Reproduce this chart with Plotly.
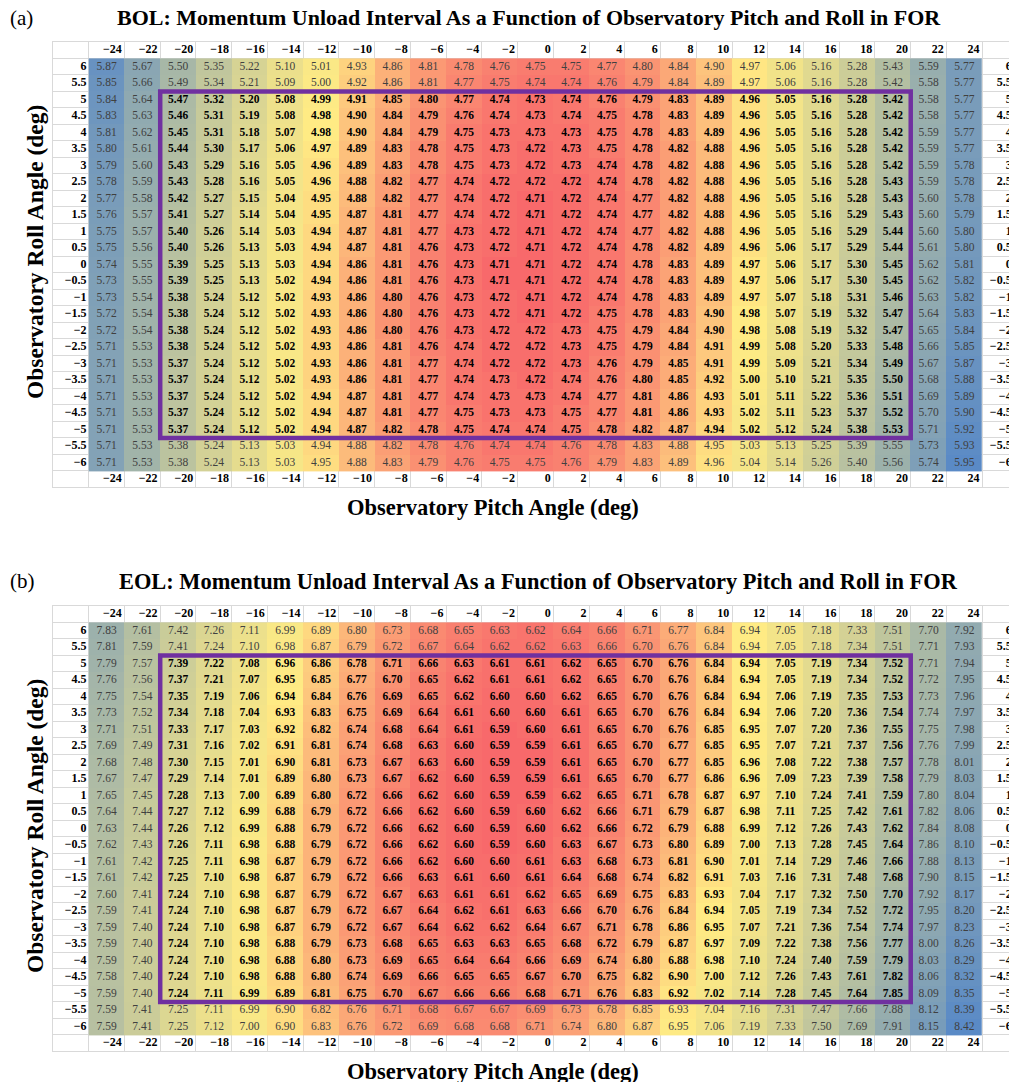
import numpy as np
import plotly.graph_objects as go

# ---------------- data ----------------
pitch_deg = [-24, -22, -20, -18, -16, -14, -12, -10, -8, -6, -4, -2, 0,
             2, 4, 6, 8, 10, 12, 14, 16, 18, 20, 22, 24]
roll_deg = [6, 5.5, 5, 4.5, 4, 3.5, 3, 2.5, 2, 1.5, 1, 0.5, 0,
            -0.5, -1, -1.5, -2, -2.5, -3, -3.5, -4, -4.5, -5, -5.5, -6]

pitch_labels = ["−24", "−22", "−20", "−18", "−16", "−14", "−12", "−10", "−8", "−6", "−4", "−2", "0",
                "2", "4", "6", "8", "10", "12", "14", "16", "18", "20", "22", "24"]
roll_labels = ["6", "5.5", "5", "4.5", "4", "3.5", "3", "2.5", "2", "1.5", "1", "0.5", "0",
               "−0.5", "−1", "−1.5", "−2", "−2.5", "−3", "−3.5", "−4", "−4.5", "−5", "−5.5", "−6"]

# BOL momentum unload interval (rows = roll 6 .. -6, cols = pitch -24 .. 24)
bol_interval = [
    [5.87, 5.67, 5.50, 5.35, 5.22, 5.10, 5.01, 4.93, 4.86, 4.81, 4.78, 4.76, 4.75, 4.75, 4.77, 4.80, 4.84, 4.90, 4.97, 5.06, 5.16, 5.28, 5.43, 5.59, 5.77],
    [5.85, 5.66, 5.49, 5.34, 5.21, 5.09, 5.00, 4.92, 4.86, 4.81, 4.77, 4.75, 4.74, 4.74, 4.76, 4.79, 4.84, 4.89, 4.97, 5.06, 5.16, 5.28, 5.42, 5.58, 5.77],
    [5.84, 5.64, 5.47, 5.32, 5.20, 5.08, 4.99, 4.91, 4.85, 4.80, 4.77, 4.74, 4.73, 4.74, 4.76, 4.79, 4.83, 4.89, 4.96, 5.05, 5.16, 5.28, 5.42, 5.58, 5.77],
    [5.83, 5.63, 5.46, 5.31, 5.19, 5.08, 4.98, 4.90, 4.84, 4.79, 4.76, 4.74, 4.73, 4.74, 4.75, 4.78, 4.83, 4.89, 4.96, 5.05, 5.16, 5.28, 5.42, 5.58, 5.77],
    [5.81, 5.62, 5.45, 5.31, 5.18, 5.07, 4.98, 4.90, 4.84, 4.79, 4.75, 4.73, 4.73, 4.73, 4.75, 4.78, 4.83, 4.89, 4.96, 5.05, 5.16, 5.28, 5.42, 5.59, 5.77],
    [5.80, 5.61, 5.44, 5.30, 5.17, 5.06, 4.97, 4.89, 4.83, 4.78, 4.75, 4.73, 4.72, 4.73, 4.75, 4.78, 4.82, 4.88, 4.96, 5.05, 5.16, 5.28, 5.42, 5.59, 5.77],
    [5.79, 5.60, 5.43, 5.29, 5.16, 5.05, 4.96, 4.89, 4.83, 4.78, 4.75, 4.73, 4.72, 4.73, 4.74, 4.78, 4.82, 4.88, 4.96, 5.05, 5.16, 5.28, 5.42, 5.59, 5.78],
    [5.78, 5.59, 5.43, 5.28, 5.16, 5.05, 4.96, 4.88, 4.82, 4.77, 4.74, 4.72, 4.72, 4.72, 4.74, 4.78, 4.82, 4.88, 4.96, 5.05, 5.16, 5.28, 5.43, 5.59, 5.78],
    [5.77, 5.58, 5.42, 5.27, 5.15, 5.04, 4.95, 4.88, 4.82, 4.77, 4.74, 4.72, 4.71, 4.72, 4.74, 4.77, 4.82, 4.88, 4.96, 5.05, 5.16, 5.28, 5.43, 5.60, 5.78],
    [5.76, 5.57, 5.41, 5.27, 5.14, 5.04, 4.95, 4.87, 4.81, 4.77, 4.74, 4.72, 4.71, 4.72, 4.74, 4.77, 4.82, 4.88, 4.96, 5.05, 5.16, 5.29, 5.43, 5.60, 5.79],
    [5.75, 5.57, 5.40, 5.26, 5.14, 5.03, 4.94, 4.87, 4.81, 4.77, 4.73, 4.72, 4.71, 4.72, 4.74, 4.77, 4.82, 4.88, 4.96, 5.05, 5.16, 5.29, 5.44, 5.60, 5.80],
    [5.75, 5.56, 5.40, 5.26, 5.13, 5.03, 4.94, 4.87, 4.81, 4.76, 4.73, 4.72, 4.71, 4.72, 4.74, 4.78, 4.82, 4.89, 4.96, 5.06, 5.17, 5.29, 5.44, 5.61, 5.80],
    [5.74, 5.55, 5.39, 5.25, 5.13, 5.03, 4.94, 4.86, 4.81, 4.76, 4.73, 4.71, 4.71, 4.72, 4.74, 4.78, 4.83, 4.89, 4.97, 5.06, 5.17, 5.30, 5.45, 5.62, 5.81],
    [5.73, 5.55, 5.39, 5.25, 5.13, 5.02, 4.94, 4.86, 4.81, 4.76, 4.73, 4.71, 4.71, 4.72, 4.74, 4.78, 4.83, 4.89, 4.97, 5.06, 5.17, 5.30, 5.45, 5.62, 5.82],
    [5.73, 5.54, 5.38, 5.24, 5.12, 5.02, 4.93, 4.86, 4.80, 4.76, 4.73, 4.72, 4.71, 4.72, 4.74, 4.78, 4.83, 4.89, 4.97, 5.07, 5.18, 5.31, 5.46, 5.63, 5.82],
    [5.72, 5.54, 5.38, 5.24, 5.12, 5.02, 4.93, 4.86, 4.80, 4.76, 4.73, 4.72, 4.71, 4.72, 4.75, 4.78, 4.83, 4.90, 4.98, 5.07, 5.19, 5.32, 5.47, 5.64, 5.83],
    [5.72, 5.54, 5.38, 5.24, 5.12, 5.02, 4.93, 4.86, 4.80, 4.76, 4.73, 4.72, 4.72, 4.73, 4.75, 4.79, 4.84, 4.90, 4.98, 5.08, 5.19, 5.32, 5.47, 5.65, 5.84],
    [5.71, 5.53, 5.38, 5.24, 5.12, 5.02, 4.93, 4.86, 4.81, 4.76, 4.74, 4.72, 4.72, 4.73, 4.75, 4.79, 4.84, 4.91, 4.99, 5.08, 5.20, 5.33, 5.48, 5.66, 5.85],
    [5.71, 5.53, 5.37, 5.24, 5.12, 5.02, 4.93, 4.86, 4.81, 4.77, 4.74, 4.72, 4.72, 4.73, 4.76, 4.79, 4.85, 4.91, 4.99, 5.09, 5.21, 5.34, 5.49, 5.67, 5.87],
    [5.71, 5.53, 5.37, 5.24, 5.12, 5.02, 4.93, 4.86, 4.81, 4.77, 4.74, 4.73, 4.72, 4.74, 4.76, 4.80, 4.85, 4.92, 5.00, 5.10, 5.21, 5.35, 5.50, 5.68, 5.88],
    [5.71, 5.53, 5.37, 5.24, 5.12, 5.02, 4.94, 4.87, 4.81, 4.77, 4.74, 4.73, 4.73, 4.74, 4.77, 4.81, 4.86, 4.93, 5.01, 5.11, 5.22, 5.36, 5.51, 5.69, 5.89],
    [5.71, 5.53, 5.37, 5.24, 5.12, 5.02, 4.94, 4.87, 4.81, 4.77, 4.75, 4.73, 4.73, 4.75, 4.77, 4.81, 4.86, 4.93, 5.02, 5.11, 5.23, 5.37, 5.52, 5.70, 5.90],
    [5.71, 5.53, 5.37, 5.24, 5.12, 5.02, 4.94, 4.87, 4.82, 4.78, 4.75, 4.74, 4.74, 4.75, 4.78, 4.82, 4.87, 4.94, 5.02, 5.12, 5.24, 5.38, 5.53, 5.71, 5.92],
    [5.71, 5.53, 5.38, 5.24, 5.13, 5.03, 4.94, 4.88, 4.82, 4.78, 4.76, 4.74, 4.74, 4.76, 4.78, 4.83, 4.88, 4.95, 5.03, 5.13, 5.25, 5.39, 5.55, 5.73, 5.93],
    [5.71, 5.53, 5.38, 5.24, 5.13, 5.03, 4.95, 4.88, 4.83, 4.79, 4.76, 4.75, 4.75, 4.76, 4.79, 4.83, 4.89, 4.96, 5.04, 5.14, 5.26, 5.40, 5.56, 5.74, 5.95],
]

# EOL momentum unload interval
eol_interval = [
    [7.83, 7.61, 7.42, 7.26, 7.11, 6.99, 6.89, 6.80, 6.73, 6.68, 6.65, 6.63, 6.62, 6.64, 6.66, 6.71, 6.77, 6.84, 6.94, 7.05, 7.18, 7.33, 7.51, 7.70, 7.92],
    [7.81, 7.59, 7.41, 7.24, 7.10, 6.98, 6.87, 6.79, 6.72, 6.67, 6.64, 6.62, 6.62, 6.63, 6.66, 6.70, 6.76, 6.84, 6.94, 7.05, 7.18, 7.34, 7.51, 7.71, 7.93],
    [7.79, 7.57, 7.39, 7.22, 7.08, 6.96, 6.86, 6.78, 6.71, 6.66, 6.63, 6.61, 6.61, 6.62, 6.65, 6.70, 6.76, 6.84, 6.94, 7.05, 7.19, 7.34, 7.52, 7.71, 7.94],
    [7.76, 7.56, 7.37, 7.21, 7.07, 6.95, 6.85, 6.77, 6.70, 6.65, 6.62, 6.61, 6.61, 6.62, 6.65, 6.70, 6.76, 6.84, 6.94, 7.05, 7.19, 7.34, 7.52, 7.72, 7.95],
    [7.75, 7.54, 7.35, 7.19, 7.06, 6.94, 6.84, 6.76, 6.69, 6.65, 6.62, 6.60, 6.60, 6.62, 6.65, 6.70, 6.76, 6.84, 6.94, 7.06, 7.19, 7.35, 7.53, 7.73, 7.96],
    [7.73, 7.52, 7.34, 7.18, 7.04, 6.93, 6.83, 6.75, 6.69, 6.64, 6.61, 6.60, 6.60, 6.61, 6.65, 6.70, 6.76, 6.84, 6.94, 7.06, 7.20, 7.36, 7.54, 7.74, 7.97],
    [7.71, 7.51, 7.33, 7.17, 7.03, 6.92, 6.82, 6.74, 6.68, 6.64, 6.61, 6.59, 6.60, 6.61, 6.65, 6.70, 6.76, 6.85, 6.95, 7.07, 7.20, 7.36, 7.55, 7.75, 7.98],
    [7.69, 7.49, 7.31, 7.16, 7.02, 6.91, 6.81, 6.74, 6.68, 6.63, 6.60, 6.59, 6.59, 6.61, 6.65, 6.70, 6.77, 6.85, 6.95, 7.07, 7.21, 7.37, 7.56, 7.76, 7.99],
    [7.68, 7.48, 7.30, 7.15, 7.01, 6.90, 6.81, 6.73, 6.67, 6.63, 6.60, 6.59, 6.59, 6.61, 6.65, 6.70, 6.77, 6.85, 6.96, 7.08, 7.22, 7.38, 7.57, 7.78, 8.01],
    [7.67, 7.47, 7.29, 7.14, 7.01, 6.89, 6.80, 6.73, 6.67, 6.62, 6.60, 6.59, 6.59, 6.61, 6.65, 6.70, 6.77, 6.86, 6.96, 7.09, 7.23, 7.39, 7.58, 7.79, 8.03],
    [7.65, 7.45, 7.28, 7.13, 7.00, 6.89, 6.80, 6.72, 6.66, 6.62, 6.60, 6.59, 6.59, 6.62, 6.65, 6.71, 6.78, 6.87, 6.97, 7.10, 7.24, 7.41, 7.59, 7.80, 8.04],
    [7.64, 7.44, 7.27, 7.12, 6.99, 6.88, 6.79, 6.72, 6.66, 6.62, 6.60, 6.59, 6.60, 6.62, 6.66, 6.71, 6.79, 6.87, 6.98, 7.11, 7.25, 7.42, 7.61, 7.82, 8.06],
    [7.63, 7.44, 7.26, 7.12, 6.99, 6.88, 6.79, 6.72, 6.66, 6.62, 6.60, 6.59, 6.60, 6.62, 6.66, 6.72, 6.79, 6.88, 6.99, 7.12, 7.26, 7.43, 7.62, 7.84, 8.08],
    [7.62, 7.43, 7.26, 7.11, 6.98, 6.88, 6.79, 6.72, 6.66, 6.62, 6.60, 6.59, 6.60, 6.63, 6.67, 6.73, 6.80, 6.89, 7.00, 7.13, 7.28, 7.45, 7.64, 7.86, 8.10],
    [7.61, 7.42, 7.25, 7.11, 6.98, 6.87, 6.79, 6.72, 6.66, 6.62, 6.60, 6.60, 6.61, 6.63, 6.68, 6.73, 6.81, 6.90, 7.01, 7.14, 7.29, 7.46, 7.66, 7.88, 8.13],
    [7.61, 7.42, 7.25, 7.10, 6.98, 6.87, 6.79, 6.72, 6.66, 6.63, 6.61, 6.60, 6.61, 6.64, 6.68, 6.74, 6.82, 6.91, 7.03, 7.16, 7.31, 7.48, 7.68, 7.90, 8.15],
    [7.60, 7.41, 7.24, 7.10, 6.98, 6.87, 6.79, 6.72, 6.67, 6.63, 6.61, 6.61, 6.62, 6.65, 6.69, 6.75, 6.83, 6.93, 7.04, 7.17, 7.32, 7.50, 7.70, 7.92, 8.17],
    [7.59, 7.41, 7.24, 7.10, 6.98, 6.87, 6.79, 6.72, 6.67, 6.64, 6.62, 6.61, 6.63, 6.66, 6.70, 6.76, 6.84, 6.94, 7.05, 7.19, 7.34, 7.52, 7.72, 7.95, 8.20],
    [7.59, 7.40, 7.24, 7.10, 6.98, 6.87, 6.79, 6.72, 6.67, 6.64, 6.62, 6.62, 6.64, 6.67, 6.71, 6.78, 6.86, 6.95, 7.07, 7.21, 7.36, 7.54, 7.74, 7.97, 8.23],
    [7.59, 7.40, 7.24, 7.10, 6.98, 6.88, 6.79, 6.73, 6.68, 6.65, 6.63, 6.63, 6.65, 6.68, 6.72, 6.79, 6.87, 6.97, 7.09, 7.22, 7.38, 7.56, 7.77, 8.00, 8.26],
    [7.59, 7.40, 7.24, 7.10, 6.98, 6.88, 6.80, 6.73, 6.69, 6.65, 6.64, 6.64, 6.66, 6.69, 6.74, 6.80, 6.88, 6.98, 7.10, 7.24, 7.40, 7.59, 7.79, 8.03, 8.29],
    [7.58, 7.40, 7.24, 7.10, 6.98, 6.88, 6.80, 6.74, 6.69, 6.66, 6.65, 6.65, 6.67, 6.70, 6.75, 6.82, 6.90, 7.00, 7.12, 7.26, 7.43, 7.61, 7.82, 8.06, 8.32],
    [7.59, 7.40, 7.24, 7.11, 6.99, 6.89, 6.81, 6.75, 6.70, 6.67, 6.66, 6.66, 6.68, 6.71, 6.76, 6.83, 6.92, 7.02, 7.14, 7.28, 7.45, 7.64, 7.85, 8.09, 8.35],
    [7.59, 7.41, 7.25, 7.11, 6.99, 6.90, 6.82, 6.76, 6.71, 6.68, 6.67, 6.67, 6.69, 6.73, 6.78, 6.85, 6.93, 7.04, 7.16, 7.31, 7.47, 7.66, 7.88, 8.12, 8.39],
    [7.59, 7.41, 7.25, 7.12, 7.00, 6.90, 6.83, 6.76, 6.72, 6.69, 6.68, 6.68, 6.71, 6.74, 6.80, 6.87, 6.95, 7.06, 7.19, 7.33, 7.50, 7.69, 7.91, 8.15, 8.42],
]

panel_tags = ["(a)", "(b)"]
panel_titles = ["BOL: Momentum Unload Interval As a Function of Observatory Pitch and Roll in FOR",
                "EOL: Momentum Unload Interval As a Function of Observatory Pitch and Roll in FOR"]
x_title = "Observatory Pitch Angle (deg)"
y_title = "Observatory Roll Angle (deg)"

# field-of-regard box limits (deg)
for_pitch_limit = 20
for_roll_limit = 5

# ---------------- style ----------------
W, H = 1009, 1082
FONT = "Liberation Serif, Times New Roman, serif"
RED, YELLOW, BLUE = "#F8696B", "#FFEB84", "#5A8AC6"
GRID = "#D9D9D9"
BOX = "#7030A0"

# pixel layout for each panel
panel_px = [
    dict(top=41.9, bot=487.4, title_y=18, title_x=529, title_size=22, xt_y=508, yt_c=252),
    dict(top=605.9, bot=1051.4, title_y=581, title_x=538, title_size=22.4, xt_y=1071, yt_c=826),
]
plot_left_px = 53

fig = go.Figure()

pstep = pitch_deg[1] - pitch_deg[0]
rstep = abs(roll_deg[1] - roll_deg[0])
x_lo = min(pitch_deg) - pstep / 2 - pstep        # includes left label column
x_hi = max(pitch_deg) + pstep / 2 + 0.75 * pstep # right label column, cut off
y_lo = min(roll_deg) - rstep / 2 - rstep
y_hi = max(roll_deg) + rstep / 2 + rstep

for k, z in enumerate([bol_interval, eol_interval]):
    xa = "x" if k == 0 else "x2"
    ya = "y" if k == 0 else "y2"
    zarr = np.array(z)
    zmin, zmax = zarr.min(), zarr.max()
    zmid = np.percentile(zarr, 50)
    f = (zmid - zmin) / (zmax - zmin)
    fig.add_trace(go.Heatmap(
        x=pitch_deg, y=roll_deg, z=z, xaxis=xa, yaxis=ya,
        zmin=zmin, zmax=zmax,
        colorscale=[[0, RED], [f, YELLOW], [1, BLUE]],
        showscale=False, hoverinfo="skip"))

    # cell values
    xs, ys, txt, cols = [], [], [], []
    for i, r in enumerate(roll_deg):
        for j, p in enumerate(pitch_deg):
            inside = abs(p) <= for_pitch_limit and abs(r) <= for_roll_limit
            xs.append(p)
            ys.append(r)
            s = f"{z[i][j]:.2f}"
            txt.append(f"<b>{s}</b>" if inside else s)
            cols.append("#000000" if inside else "#404040")
    fig.add_trace(go.Scatter(
        x=xs, y=ys, text=txt, mode="text", xaxis=xa, yaxis=ya,
        textfont=dict(family=FONT, size=11.5, color=cols),
        hoverinfo="skip", showlegend=False))

    # column header labels (top and bottom), right aligned
    hx = [p + pstep / 2 - 0.15 for p in pitch_deg]
    for yy in [max(roll_deg) + rstep, min(roll_deg) - rstep]:
        fig.add_trace(go.Scatter(
            x=hx, y=[yy] * len(pitch_deg), text=[f"<b>{t}</b>" for t in pitch_labels],
            mode="text", textposition="middle left", xaxis=xa, yaxis=ya,
            textfont=dict(family=FONT, size=12, color="#000000"),
            hoverinfo="skip", showlegend=False))
    # row labels left and right
    for xx in [min(pitch_deg) - pstep / 2 - 0.12, max(pitch_deg) + pstep / 2 + 1.65]:
        fig.add_trace(go.Scatter(
            x=[xx] * len(roll_deg), y=roll_deg, text=[f"<b>{t}</b>" for t in roll_labels],
            mode="text", textposition="middle left", xaxis=xa, yaxis=ya,
            textfont=dict(family=FONT, size=12, color="#000000"),
            hoverinfo="skip", showlegend=False))

    # field-of-regard box
    fig.add_shape(type="rect", xref=xa, yref=ya,
                  x0=-for_pitch_limit - pstep / 2, x1=for_pitch_limit + pstep / 2,
                  y0=-for_roll_limit - rstep / 2, y1=for_roll_limit + rstep / 2,
                  line=dict(color=BOX, width=4.5), layer="above")

    P = panel_px[k]
    dom = [(H - P["bot"]) / H, (H - P["top"]) / H]
    xgrid = list(np.arange(x_lo, x_hi + 0.01, pstep))
    ygrid = list(np.arange(y_lo, y_hi + 0.01, rstep))
    axx = dict(domain=[plot_left_px / W, 1], range=[x_lo, x_hi], tickvals=xgrid,
               showticklabels=False, ticks="", showgrid=True, gridcolor=GRID, gridwidth=1,
               zeroline=False, showline=True, mirror=True, linecolor=GRID, linewidth=1,
               fixedrange=True)
    axy = dict(domain=dom, range=[y_lo, y_hi], tickvals=ygrid,
               showticklabels=False, ticks="", showgrid=True, gridcolor=GRID, gridwidth=1,
               zeroline=False, showline=True, mirror=True, linecolor=GRID, linewidth=1,
               fixedrange=True)
    if k == 0:
        fig.update_layout(xaxis=axx, yaxis=axy)
    else:
        axx["anchor"] = "y2"
        axy["anchor"] = "x2"
        fig.update_layout(xaxis2=axx, yaxis2=axy)

    # titles
    fig.add_annotation(text=panel_tags[k], xref="paper", yref="paper",
                       x=8 / W, y=1 - P["title_y"] / H, xanchor="left", yanchor="middle",
                       showarrow=False, font=dict(family=FONT, size=21, color="#000000"))
    fig.add_annotation(text=f"<b>{panel_titles[k]}</b>", xref="paper", yref="paper",
                       x=P["title_x"] / W, y=1 - P["title_y"] / H, xanchor="center", yanchor="middle",
                       showarrow=False, font=dict(family=FONT, size=P["title_size"], color="#000000"))
    fig.add_annotation(text=f"<b>{x_title}</b>", xref="paper", yref="paper",
                       x=493 / W, y=1 - P["xt_y"] / H, xanchor="center", yanchor="middle",
                       showarrow=False, font=dict(family=FONT, size=22.5, color="#000000"))
    fig.add_annotation(text=f"<b>{y_title}</b>", xref="paper", yref="paper",
                       x=35 / W, y=1 - P["yt_c"] / H, xanchor="center", yanchor="middle",
                       textangle=-90, showarrow=False,
                       font=dict(family=FONT, size=23.5, color="#000000"))

fig.update_layout(width=W, height=H, autosize=False,
                  margin=dict(l=0, r=0, t=0, b=0),
                  paper_bgcolor="white", plot_bgcolor="white",
                  showlegend=False)

fig.write_html("out.html", config={"displayModeBar": False})
